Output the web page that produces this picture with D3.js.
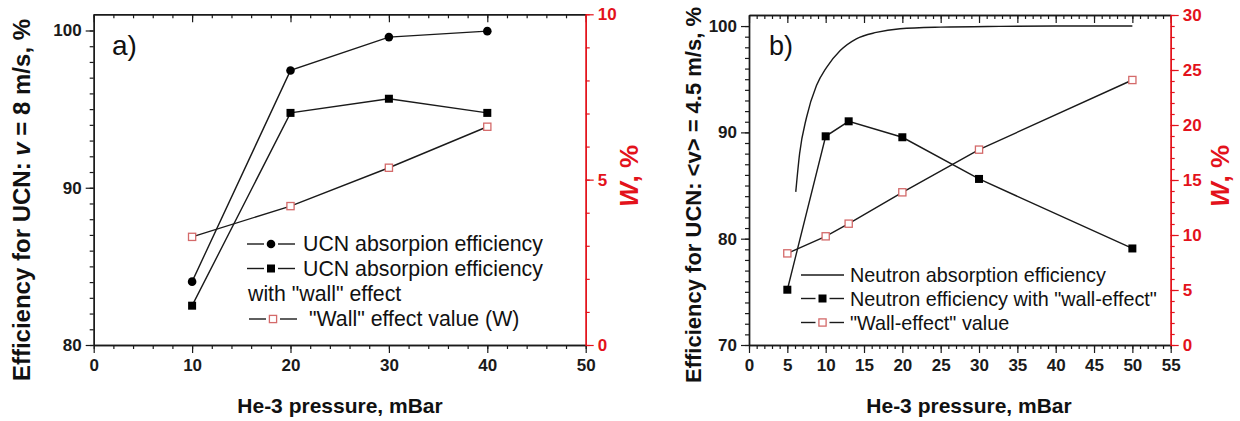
<!DOCTYPE html>
<html>
<head>
<meta charset="utf-8">
<title>UCN efficiency vs He-3 pressure</title>
<script src="https://cdn.jsdelivr.net/npm/d3@7"></script>
<style>
  body { margin: 0; background: #fff; }
  svg text { font-family: Arial, "Liberation Sans", sans-serif; }
</style>
</head>
<body>
<div id="chart"></div>
<script>
// panel a) : v = 8 m/s
var pressureA = [10, 20, 30, 40];
var effA = [84.03, 97.46, 99.58, 99.96];
var effWallA = [82.5, 94.76, 95.66, 94.76];
var wallA = [3.27, 4.2, 5.36, 6.6];

// panel b) : <v> = 4.5 m/s
var curvePressureB = [6.1, 6.6, 7.5, 8.8, 10.1, 11.9, 14, 16.6, 19.7, 25, 32.7, 40, 50];
var curveEffB = [84.4, 88.0, 91.4, 94.4, 96.1, 97.7, 98.8, 99.4, 99.75, 99.9, 99.97, 100, 100];
var pressureB = [5, 10, 13, 20, 30, 50];
var effWallB = [75.2, 89.63, 91.04, 89.54, 85.62, 79.08];
var wallB = [8.33, 9.88, 11.03, 13.88, 17.76, 24.09];

// tick labels
var xTicksA = [0, 10, 20, 30, 40, 50];
var yTicksA = [80, 90, 100];
var wTicksA = [0, 5, 10];
var xTicksB = [0, 5, 10, 15, 20, 25, 30, 35, 40, 45, 50, 55];
var yTicksB = [70, 80, 90, 100];
var wTicksB = [0, 5, 10, 15, 20, 25, 30];

var legendA = ["UCN absorpion efficiency", "UCN absorpion efficiency", "with \"wall\" effect", "\"Wall\" effect value (W)"];
var legendB = ["Neutron absorption efficiency", "Neutron efficiency with \"wall-effect\"", "\"Wall-effect\" value"];

var red = "#e3121b";
var ink = "#1a1a1a";

var svg = d3.select("#chart").append("svg")
    .attr("width", 1240)
    .attr("height", 421);

function minorTicks(domain, step) {
    return d3.range(domain[0], domain[1] + 1e-9, step);
}

function styleAxis(sel, color) {
    sel.select(".domain").attr("stroke", color).attr("stroke-width", 1.4);
    sel.selectAll(".tick line").attr("stroke", color).attr("stroke-width", 1.2);
    sel.selectAll("text")
        .attr("fill", color)
        .style("font-size", "17px")
        .style("font-weight", "bold");
}

function panel(cfg) {
    var g = svg.append("g");
    var x = d3.scaleLinear().domain(cfg.xDomain).range([cfg.left, cfg.right]);
    var yL = d3.scaleLinear().domain(cfg.yDomain).range([cfg.bottom, cfg.top]);
    var yR = d3.scaleLinear().domain(cfg.wDomain).range([cfg.bottom, cfg.top]);
    var xEnd = cfg.xTicks[cfg.xTicks.length - 1];

    // bottom
    g.append("g").attr("transform", "translate(0," + cfg.bottom + ")")
        .call(d3.axisBottom(x).tickValues(minorTicks([0, xEnd], cfg.xMinor)).tickSize(4).tickSizeOuter(0).tickFormat(""))
        .call(styleAxis, ink);
    g.append("g").attr("transform", "translate(0," + cfg.bottom + ")")
        .call(d3.axisBottom(x).tickValues(cfg.xTicks).tickSize(8).tickPadding(6).tickSizeOuter(0).tickFormat(d3.format("d")))
        .call(styleAxis, ink);
    // top (ticks inward)
    g.append("g").attr("transform", "translate(0," + cfg.top + ")")
        .call(d3.axisTop(x).tickValues(minorTicks([0, xEnd], cfg.xMinor)).tickSize(-4).tickSizeOuter(0).tickFormat(""))
        .call(styleAxis, ink);
    g.append("g").attr("transform", "translate(0," + cfg.top + ")")
        .call(d3.axisTop(x).tickValues(cfg.xTicks).tickSize(-8).tickSizeOuter(0).tickFormat(""))
        .call(styleAxis, ink);
    // left
    g.append("g").attr("transform", "translate(" + cfg.left + ",0)")
        .call(d3.axisLeft(yL).tickValues(minorTicks([cfg.yTicks[0], cfg.yTicks[cfg.yTicks.length - 1]], 1)).tickSize(4).tickSizeOuter(0).tickFormat(""))
        .call(styleAxis, ink);
    g.append("g").attr("transform", "translate(" + cfg.left + ",0)")
        .call(d3.axisLeft(yL).tickValues(cfg.yTicks).tickSize(8).tickPadding(4).tickSizeOuter(0))
        .call(styleAxis, ink);
    // right, red
    g.append("g").attr("transform", "translate(" + cfg.right + ",0)")
        .call(d3.axisRight(yR).tickValues(minorTicks(cfg.wDomain, 1)).tickSize(4).tickSizeOuter(0).tickFormat(""))
        .call(styleAxis, red);
    g.append("g").attr("transform", "translate(" + cfg.right + ",0)")
        .call(d3.axisRight(yR).tickValues(cfg.wTicks).tickSize(8).tickPadding(4).tickSizeOuter(0))
        .call(styleAxis, red);

    return { g: g, x: x, yL: yL, yR: yR };
}

function series(p, xs, ys, yScale, marker) {
    var pts = xs.map(function(d, i) { return [p.x(d), yScale(ys[i])]; });
    p.g.append("path")
        .attr("d", d3.line()(pts))
        .attr("fill", "none")
        .attr("stroke", ink)
        .attr("stroke-width", 1.4);
    drawMarkers(p.g, pts, marker);
}

function drawMarkers(g, pts, marker) {
    if (marker === "circle") {
        g.selectAll(null).data(pts).enter().append("circle")
            .attr("cx", function(d) { return d[0]; })
            .attr("cy", function(d) { return d[1]; })
            .attr("r", 4.3)
            .attr("fill", "#000");
    } else if (marker === "square") {
        g.selectAll(null).data(pts).enter().append("rect")
            .attr("x", function(d) { return d[0] - 4; })
            .attr("y", function(d) { return d[1] - 4; })
            .attr("width", 8).attr("height", 8)
            .attr("fill", "#000");
    } else if (marker === "open") {
        g.selectAll(null).data(pts).enter().append("rect")
            .attr("x", function(d) { return d[0] - 3.6; })
            .attr("y", function(d) { return d[1] - 3.6; })
            .attr("width", 7.2).attr("height", 7.2)
            .attr("fill", "#fff")
            .attr("stroke", "#d46a6a")
            .attr("stroke-width", 1.3);
    }
}

function legendRow(g, x0, x1, y, marker, label, textX, size) {
    var mid = (x0 + x1) / 2;
    if (marker) {
        g.append("line").attr("x1", x0).attr("x2", mid - 7).attr("y1", y).attr("y2", y)
            .attr("stroke", ink).attr("stroke-width", 1.4);
        g.append("line").attr("x1", mid + 7).attr("x2", x1).attr("y1", y).attr("y2", y)
            .attr("stroke", ink).attr("stroke-width", 1.4);
        drawMarkers(g, [[mid, y]], marker);
    } else {
        g.append("line").attr("x1", x0).attr("x2", x1).attr("y1", y).attr("y2", y)
            .attr("stroke", ink).attr("stroke-width", 1.4);
    }
    g.append("text").attr("x", textX).attr("y", y + 7)
        .style("font-size", size + "px").attr("fill", "#111").text(label);
}

function yTitle(x, yc, size, parts, color) {
    var t = svg.append("text")
        .attr("transform", "translate(" + x + "," + yc + ") rotate(-90)")
        .attr("text-anchor", "middle")
        .style("font-size", size + "px")
        .style("font-weight", "bold")
        .attr("fill", color);
    parts.forEach(function(p) {
        t.append("tspan").style("font-style", p[1] ? "italic" : "normal").text(p[0]);
    });
}

// ---------- panel a)
var pa = panel({
    left: 93.7, right: 585.7, top: 14.3, bottom: 345,
    xDomain: [0, 50], yDomain: [80, 101.03], wDomain: [0, 10],
    xTicks: xTicksA, xMinor: 2, yTicks: yTicksA, wTicks: wTicksA
});
series(pa, pressureA, wallA, pa.yR, "open");
series(pa, pressureA, effA, pa.yL, "circle");
series(pa, pressureA, effWallA, pa.yL, "square");

legendRow(pa.g, 247, 295, 244, "circle", legendA[0], 303, 21.3);
legendRow(pa.g, 247, 295, 268.5, "square", legendA[1], 303, 21.3);
pa.g.append("text").attr("x", 248).attr("y", 301).style("font-size", "21.3px").attr("fill", "#111").text(legendA[2]);
legendRow(pa.g, 249, 297, 319, "open", legendA[3], 309, 21.3);

pa.g.append("text").attr("x", 112).attr("y", 55).style("font-size", "28px").attr("fill", "#111").text("a)");

// ---------- panel b)
var pb = panel({
    left: 749, right: 1170.7, top: 15, bottom: 345,
    xDomain: [0, 55], yDomain: [70, 101.04], wDomain: [0, 30],
    xTicks: xTicksB, xMinor: 1, yTicks: yTicksB, wTicks: wTicksB
});
pb.g.append("path")
    .attr("d", d3.line().curve(d3.curveMonotoneX)(curvePressureB.map(function(d, i) { return [pb.x(d), pb.yL(curveEffB[i])]; })))
    .attr("fill", "none")
    .attr("stroke", ink)
    .attr("stroke-width", 1.4);
series(pb, pressureB, wallB, pb.yR, "open");
series(pb, pressureB, effWallB, pb.yL, "square");

legendRow(pb.g, 801, 844, 275, null, legendB[0], 850, 19.8);
legendRow(pb.g, 801, 844, 298.5, "square", legendB[1], 850, 19.8);
legendRow(pb.g, 801, 844, 322.5, "open", legendB[2], 850, 19.8);

pb.g.append("text").attr("x", 769).attr("y", 55).style("font-size", "27px").attr("fill", "#111").text("b)");

// ---------- titles
yTitle(30, 200, 24, [["Efficiency for UCN: ", false], ["v", true], [" = 8 m/s, %", false]], "#111");
yTitle(701, 195, 22, [["Efficiency for UCN: <v> = 4.5 m/s, %", false]], "#111");
yTitle(638, 176, 26, [["W", true], [", %", false]], red);
yTitle(1229, 176, 26, [["W", true], [", %", false]], red);

svg.append("text").attr("x", 340).attr("y", 413).attr("text-anchor", "middle")
    .style("font-size", "21px").style("font-weight", "bold").attr("fill", "#111")
    .text("He-3 pressure, mBar");
svg.append("text").attr("x", 969).attr("y", 413).attr("text-anchor", "middle")
    .style("font-size", "21px").style("font-weight", "bold").attr("fill", "#111")
    .text("He-3 pressure, mBar");
</script>
</body>
</html>
